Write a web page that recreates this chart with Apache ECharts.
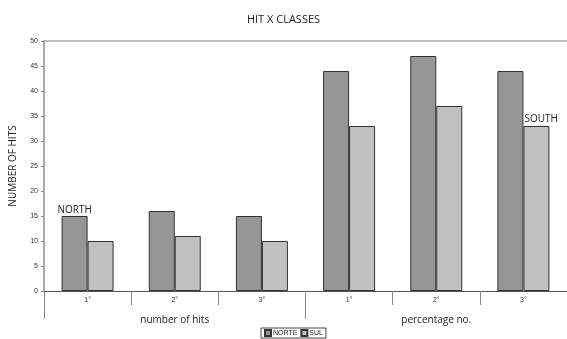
<!DOCTYPE html>
<html>
<head>
<meta charset="utf-8">
<script src="https://cdn.jsdelivr.net/npm/echarts@6/dist/echarts.min.js"></script>
<style>
  html, body { margin: 0; padding: 0; background: #fff; }
  #chart { width: 567px; height: 339px; }
</style>
</head>
<body>
<div id="chart"></div>
<script>
// Hit counts per class, two regions
const classes = ['1°', '2°', '3°', '1°', '2°', '3°'];
const groups = ['number of hits', 'percentage no.'];
const norte = [15, 16, 15, 44, 47, 44];
const sul = [10, 11, 10, 33, 37, 33];
const yTicks = { min: 0, max: 50, step: 5 };

const chart = echarts.init(document.getElementById('chart'));
const tickFont = { fontFamily: 'Liberation Sans', fontSize: 7, color: '#333' };

chart.setOption({
  animation: false,
  title: {
    text: 'HIT X CLASSES',
    left: 'center',
    top: 9,
    textStyle: { fontFamily: 'Open Sans', fontSize: 11, fontWeight: 'normal', color: '#222' }
  },
  legend: {
    data: ['NORTE', 'SUL'],
    bottom: 1,
    left: 261,
    itemWidth: 6,
    itemHeight: 6,
    itemGap: 3,
    padding: [1, 3],
    borderColor: '#444',
    borderWidth: 1,
    borderRadius: 0,
    icon: 'rect',
    textStyle: { fontFamily: 'Liberation Sans', fontSize: 7, color: '#222', padding: [0, 0, 0, -3] }
  },
  grid: { left: 42, top: 41, width: 528, bottom: 48, containLabel: false },
  xAxis: [
    {
      type: 'category',
      data: classes,
      position: 'bottom',
      axisLine: { show: true, lineStyle: { color: '#555', width: 1 } },
      axisTick: { show: true, length: 14, alignWithLabel: false, lineStyle: { color: '#888' } },
      axisLabel: Object.assign({ margin: 6 }, tickFont)
    },
    {
      type: 'category',
      data: groups,
      position: 'bottom',
      axisLine: { show: false },
      axisTick: { show: true, length: 28, lineStyle: { color: '#888' } },
      axisLabel: { margin: 24, fontFamily: 'Open Sans', fontSize: 10, color: '#222' }
    },
    {
      type: 'category',
      data: groups,
      position: 'top',
      axisLine: { show: true, lineStyle: { color: '#aaa', width: 1.5 } },
      axisTick: { show: false },
      axisLabel: { show: false }
    }
  ],
  yAxis: {
    type: 'value',
    min: yTicks.min,
    max: yTicks.max,
    interval: yTicks.step,
    name: 'NUMBER OF HITS',
    nameLocation: 'middle',
    nameRotate: 90,
    nameGap: 26,
    nameTextStyle: { fontFamily: 'Open Sans', fontSize: 10, color: '#222' },
    axisLine: { show: true, lineStyle: { color: '#aaa', width: 2 } },
    axisTick: { show: true, length: 3, lineStyle: { color: '#888' } },
    axisLabel: Object.assign({ margin: 6 }, tickFont),
    splitLine: { show: false }
  },
  series: [
    {
      name: 'NORTE',
      type: 'bar',
      data: norte.map((v, i) => i === 0 ? {
        value: v,
        label: { show: true, position: 'top', distance: 1, formatter: 'NORTH', fontFamily: 'Open Sans', fontSize: 10, color: '#222' }
      } : v),
      barWidth: 26,
      barGap: '0%',
      itemStyle: { color: '#969696', borderColor: '#333', borderWidth: 1 }
    },
    {
      name: 'SUL',
      type: 'bar',
      data: sul.map((v, i) => i === sul.length - 1 ? {
        value: v,
        label: { show: true, position: [1, -12], formatter: 'SOUTH', fontFamily: 'Open Sans', fontSize: 10, color: '#222' }
      } : v),
      barWidth: 26,
      barGap: '0%',
      itemStyle: { color: '#c0c0c0', borderColor: '#333', borderWidth: 1 }
    }
  ]
});
</script>
</body>
</html>
